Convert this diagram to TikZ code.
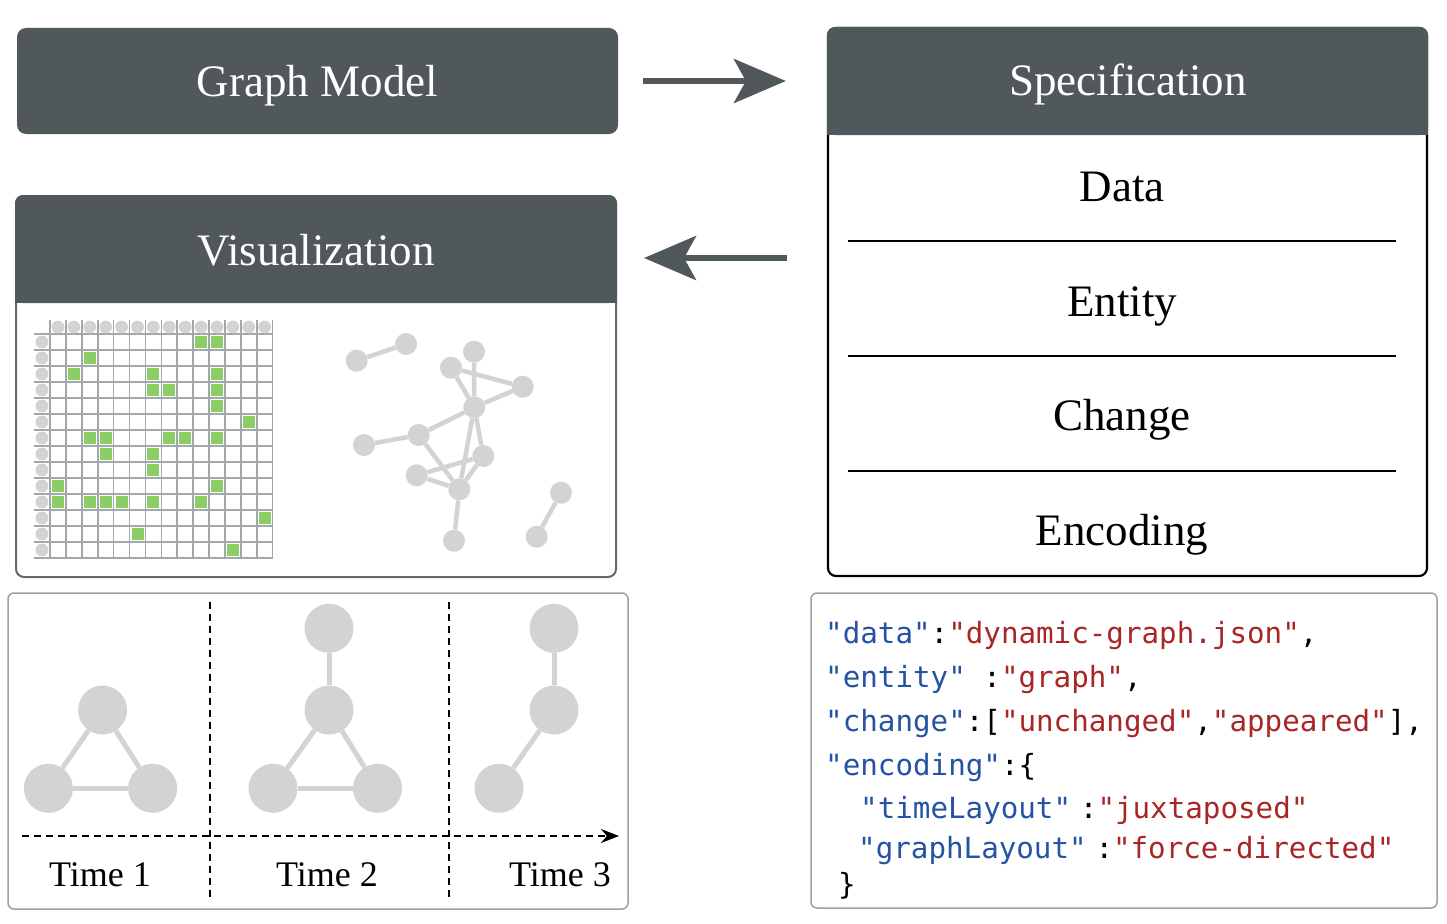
\documentclass[tikz,border=0pt]{standalone}
\usepackage{fontspec}
\setmainfont{Liberation Serif}
\setmonofont{DejaVu Sans Mono}
\usepackage{xcolor}
\usepackage{tikz}
\usetikzlibrary{positioning}
\usetikzlibrary{arrows.meta}
\usetikzlibrary{calc}

\definecolor{hdrgray}{RGB}{80,88,91}
\definecolor{nodegray}{RGB}{211,211,211}
\definecolor{gridgray}{RGB}{160,168,170}
\definecolor{cellgreen}{RGB}{140,205,100}
\definecolor{keyblue}{RGB}{38,82,165}
\definecolor{valred}{RGB}{168,38,38}
\definecolor{boxgray}{RGB}{160,160,160}

\newcommand{\jkey}[1]{\textcolor{keyblue}{"#1"}}
\newcommand{\jval}[1]{\textcolor{valred}{"#1"}}

\tikzset{
  darkbox/.style={rectangle, rounded corners=9pt, fill=hdrgray, inner sep=0pt},
  panelbox/.style={rectangle, rounded corners=8pt, fill=white, inner sep=0pt},
  lightbox/.style={rectangle, rounded corners=6pt, fill=white, draw=boxgray, line width=1.5pt, inner sep=0pt},
  title/.style={anchor=base, text=white, font=\fontsize{45}{54}\selectfont},
  entry/.style={anchor=base, text=black, font=\fontsize{45}{54}\selectfont},
  bigarrow/.style={draw=hdrgray, line width=6pt, -{Stealth[length=52pt,width=44pt,inset=12pt]}},
  divider/.style={draw=black, line width=2pt},
  gridline/.style={draw=gridgray, line width=1.6pt},
  gnode/.style={circle, fill=nodegray, inner sep=0pt, minimum size=22pt},
  gedge/.style={draw=nodegray, line width=4.5pt},
  tnode/.style={circle, fill=nodegray, inner sep=0pt, minimum size=49pt},
  tedge/.style={draw=nodegray, line width=5pt},
  sepline/.style={draw=black, line width=1.6pt, dash pattern=on 7pt off 5pt},
  timelabel/.style={anchor=base, font=\fontsize{36}{43}\selectfont},
  code/.style={anchor=base west, inner sep=0pt, font=\ttfamily\fontsize{29.2}{35}\selectfont},
}

\begin{document}
\begin{tikzpicture}[x=1pt, y=-1pt]
  \useasboundingbox (0,0) rectangle (1447,923);

  % Graph model box
  \node[darkbox, minimum width=601pt, minimum height=106pt] (model) at (317.5,81) {};
  \node[title] (modeltxt) at (317.5,97) {Graph Model};

  % Specification panel
  \node[panelbox, draw=black, line width=2.2pt, minimum width=599pt, minimum height=548pt] (spec) at (1127.5,302) {};
  \fill[hdrgray, rounded corners=8pt] (827,27) rectangle (1428,135);
  \fill[hdrgray] (827,110) rectangle (1428,135);
  \node[title] (spectxt) at (1128,96) {Specification};
  \node[entry] (data) at (1122,201) {Data};
  \node[entry] (entity) at (1122,316) {Entity};
  \node[entry] (change) at (1122,430) {Change};
  \node[entry] (encoding) at (1122,545) {Encoding};
  \draw[divider] (848,241) -- (1396,241);
  \draw[divider] (848,356) -- (1396,356);
  \draw[divider] (848,471) -- (1396,471);

  % Visualization panel
  \node[panelbox, draw=hdrgray!90, line width=2pt, minimum width=600pt, minimum height=381pt] (vis) at (316,386.5) {};
  \fill[hdrgray, rounded corners=8pt] (15,195) rectangle (617,303);
  \fill[hdrgray] (15,280) rectangle (617,303);
  \node[title] (vistxt) at (316,265) {Visualization};

  % Arrows between panels
  \coordinate (ret) at (787,258);
  \draw[bigarrow, shorten <=25pt, shorten >=41pt] (model.east) -- (model.east -| spec.west);
  \draw[bigarrow, shorten >=27pt] (ret) -- (ret -| vis.east);

  % Adjacency matrix
  \begin{scope}[shift={(50,334)}]
    \foreach \k in {0,...,14} {
      \draw[gridline] ({15.9*\k},-14) -- ({15.9*\k},224);
      \draw[gridline] (-16,{16*\k}) -- (222.6,{16*\k});
    }
    \foreach \k in {0,...,13} {
      \fill[nodegray] ({15.9*\k+7.95},-7) circle (6.4pt);
      \fill[nodegray] (-8,{16*\k+8}) circle (6.4pt);
    }
    \foreach \r/\c in {0/9,0/10,1/2,2/1,2/6,2/10,3/6,3/7,3/10,4/10,5/12,
        6/2,6/3,6/7,6/8,6/10,7/3,7/6,8/6,9/0,9/10,10/0,10/2,10/3,10/4,
        10/6,10/9,11/13,12/5,13/11}
      \fill[cellgreen] ({15.9*\c+2},{16*\r+2}) rectangle ++(12,12);
  \end{scope}

  % Node-link graph
  \node[gnode] (g1) at (356.7,360.7) {};
  \node[gnode] (g2) at (406,344) {};
  \node[gnode] (g3) at (474,351.7) {};
  \node[gnode] (g4) at (451,367.7) {};
  \node[gnode] (g5) at (522.7,386.7) {};
  \node[gnode] (g6) at (474.3,407.3) {};
  \node[gnode] (g7) at (418.7,435) {};
  \node[gnode] (g8) at (364,445) {};
  \node[gnode] (g9) at (483.3,456) {};
  \node[gnode] (g10) at (416.7,475.3) {};
  \node[gnode] (g11) at (459.3,489.3) {};
  \node[gnode] (g12) at (454,540.7) {};
  \node[gnode] (g13) at (561,492.7) {};
  \node[gnode] (g14) at (536.7,536.7) {};
  \draw[gedge] (g1) -- (g2);
  \draw[gedge] (g3) -- (g6);
  \draw[gedge] (g4) -- (g6);
  \draw[gedge] (g4) -- (g5);
  \draw[gedge] (g5) -- (g6);
  \draw[gedge] (g6) -- (g7);
  \draw[gedge] (g7) -- (g8);
  \draw[gedge] (g7) -- (g11);
  \draw[gedge] (g6) -- (g11);
  \draw[gedge] (g6) -- (g9);
  \draw[gedge] (g9) -- (g10);
  \draw[gedge] (g10) -- (g11);
  \draw[gedge] (g9) -- (g11);
  \draw[gedge] (g11) -- (g12);
  \draw[gedge] (g13) -- (g14);

  % Juxtaposed time steps
  \node[lightbox, minimum width=620pt, minimum height=316pt] (timeline) at (318,751) {};
  \draw[sepline] (210,602) -- (210,898);
  \draw[sepline] (449,602) -- (449,898);
  \coordinate (tstart) at (22,836);
  \coordinate (tend) at (619,836);
  \draw[sepline, -{Stealth[length=18pt,width=14pt]}] (tstart) -- (tend);

  \node[tnode] (t1a) at (102.6,710) {};
  \node[tnode] (t1b) at (48.4,788.3) {};
  \node[tnode] (t1c) at (152.6,788.3) {};
  \draw[tedge] (t1a) -- (t1b);
  \draw[tedge] (t1a) -- (t1c);
  \draw[tedge] (t1b) -- (t1c);

  \node[tnode] (t2a) at (329,628.3) {};
  \node[tnode] (t2b) at (329,710) {};
  \node[tnode] (t2c) at (273,788.3) {};
  \node[tnode] (t2d) at (377.5,788.3) {};
  \draw[tedge] (t2a) -- (t2b);
  \draw[tedge] (t2b) -- (t2c);
  \draw[tedge] (t2b) -- (t2d);
  \draw[tedge] (t2c) -- (t2d);

  \node[tnode] (t3a) at (554,628.3) {};
  \node[tnode] (t3b) at (554,710) {};
  \node[tnode] (t3c) at (499,788.3) {};
  \draw[tedge] (t3a) -- (t3b);
  \draw[tedge] (t3b) -- (t3c);

  \node[timelabel] (time1) at (100,886) {Time 1};
  \node[timelabel] (time2) at (327,886) {Time 2};
  \node[timelabel] (time3) at (560,886) {Time 3};

  % Specification code
  \node[lightbox, minimum width=626pt, minimum height=315pt] (codebox) at (1124,750.5) {};
  \node[code] (line1) at (825,643) {\jkey{data}:\jval{dynamic-graph.json},};
  \node[code] (line2) at (825,687) {\jkey{entity} :\jval{graph},};
  \node[code] (line3) at (825,731) {\jkey{change}:[\jval{unchanged},\jval{appeared}],};
  \node[code] (line4) at (825,775) {\jkey{encoding}:\{};
  \node[code] (line5) at (860,818) {\jkey{timeLayout}\hspace{0.3em}:\jval{juxtaposed}};
  \node[code] (line6) at (858,858) {\jkey{graphLayout}\hspace{0.3em}:\jval{force-directed}};
  \node[code] (line7) at (838,894) {\}};

\end{tikzpicture}
\end{document}
